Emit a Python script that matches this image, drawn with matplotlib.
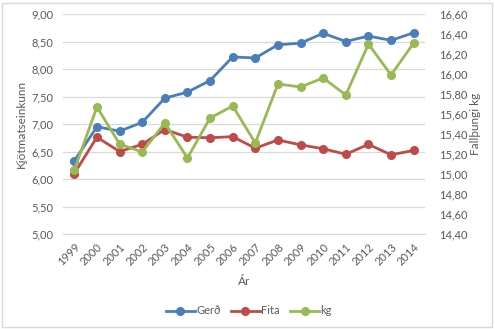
import matplotlib
matplotlib.use("Agg")
import matplotlib.pyplot as plt
from matplotlib.lines import Line2D
from matplotlib.patches import Rectangle

years = ["1999", "2000", "2001", "2002", "2003", "2004", "2005", "2006",
         "2007", "2008", "2009", "2010", "2011", "2012", "2013", "2014"]
gerd = [6.33, 6.95, 6.87, 7.03, 7.47, 7.58, 7.79, 8.22,
        8.20, 8.44, 8.47, 8.65, 8.50, 8.60, 8.52, 8.66]
fita = [6.10, 6.76, 6.50, 6.63, 6.90, 6.76, 6.75, 6.77,
        6.56, 6.71, 6.62, 6.55, 6.45, 6.63, 6.44, 6.52]
kg = [15.04, 15.67, 15.30, 15.22, 15.51, 15.16, 15.56, 15.68,
      15.31, 15.90, 15.87, 15.96, 15.79, 16.30, 15.99, 16.31]

left_ticks = [5.0, 5.5, 6.0, 6.5, 7.0, 7.5, 8.0, 8.5, 9.0]
right_ticks = [14.4, 14.6, 14.8, 15.0, 15.2, 15.4, 15.6, 15.8, 16.0, 16.2, 16.4, 16.6]

c_blue = "#4A7EBB"
c_red = "#BE4B48"
c_green = "#98B954"
txt = "#595959"
grid = "#D9D9D9"

plt.rcParams["font.family"] = ["Lato", "DejaVu Sans"]

W, H = 495, 329
fig = plt.figure(figsize=(W / 100, H / 100), dpi=100)
fig.patch.set_facecolor("white")

ax = fig.add_axes([63 / W, 1 - 234 / H, (425 - 63) / W, (234 - 14) / H])
ax2 = ax.twinx()

x = list(range(len(years)))
ms = 5.5
lw = 2.0
ax.plot(x, gerd, color=c_blue, lw=lw, marker="o", ms=ms, zorder=3)
ax.plot(x, fita, color=c_red, lw=lw, marker="o", ms=ms, zorder=3)
ax2.plot(x, kg, color=c_green, lw=lw, marker="o", ms=ms, zorder=3)

ax.set_xlim(-0.5, len(years) - 0.5)
ax.set_ylim(5.0, 9.0)
ax2.set_ylim(14.4, 16.6)
ax.set_yticks(left_ticks)
ax.set_yticklabels([f"{v:.2f}".replace(".", ",") for v in left_ticks])
ax2.set_yticks(right_ticks)
ax2.set_yticklabels([f"{v:.2f}".replace(".", ",") for v in right_ticks])
ax.set_xticks(x)
ax.set_xticklabels(years, rotation=45, ha="right", rotation_mode="anchor")

ax.yaxis.grid(True, color=grid, lw=0.9)
ax.set_axisbelow(True)
for a in (ax, ax2):
    for s in a.spines.values():
        s.set_visible(False)
    a.tick_params(length=0, labelsize=8, colors=txt)
ax.tick_params(axis="y", pad=7)
ax2.tick_params(axis="y", pad=10)
ax.tick_params(axis="x", pad=5)
ax.spines["bottom"].set_visible(True)
ax.spines["bottom"].set_color(grid)

ax.set_ylabel("Kjötmatseinkunn", fontsize=8.5, color=txt, labelpad=3)
ax2.set_ylabel("Fallþungi kg", fontsize=8.5, color=txt, labelpad=2)
ax.set_xlabel("Ár", fontsize=8.5, color=txt, labelpad=6)

handles = [Line2D([], [], color=c, lw=lw, marker="o", ms=ms) for c in (c_blue, c_red, c_green)]
fig.legend(handles, ["Gerð", "Fita", "kg"], loc="center", bbox_to_anchor=(249 / W, 1 - 311 / H),
           ncol=3, frameon=False, fontsize=8, labelcolor=txt, handlelength=2.6,
           handletextpad=0.15, columnspacing=0.9)

fig.patches.append(Rectangle((2 / W, 2 / H), (W - 5) / W, (H - 5) / H, transform=fig.transFigure,
                             fill=False, edgecolor="#D9D9D9", lw=1.0))

fig.savefig("out.png", dpi=100, facecolor="white")
